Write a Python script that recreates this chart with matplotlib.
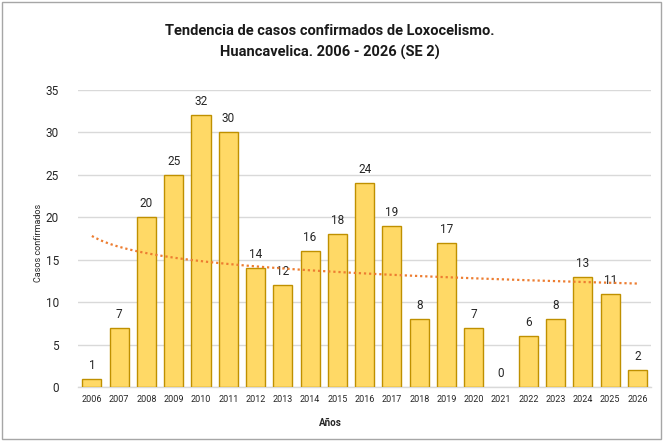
import numpy as np
import matplotlib
matplotlib.use("Agg")
import matplotlib.pyplot as plt
from matplotlib.patches import Rectangle
from matplotlib import font_manager

years = [str(y) for y in range(2006, 2027)]
cases = [1, 7, 20, 25, 32, 30, 14, 12, 16, 18, 24, 19, 8, 17, 7, 0, 6, 8, 13, 11, 2]
title = "Tendencia de casos confirmados de Loxocelismo.\nHuancavelica. 2006 - 2026 (SE 2)"
ylabel = "Casos confirmados"
xlabel = "Años"
yticks = [0, 5, 10, 15, 20, 25, 30, 35]

avail = {f.name for f in font_manager.fontManager.ttflist}
fam = [f for f in ["Liberation Sans Narrow", "Roboto", "DejaVu Sans"] if f in avail]
plt.rcParams['font.family'] = fam

fig = plt.figure(figsize=(6.63, 4.41), dpi=100)
ax = fig.add_axes([0.118, 0.1224, 0.864, 0.674])

x = np.arange(len(years))
edges = ["#BF9000" if v > 0 else "none" for v in cases]
ax.bar(x, cases, width=0.7, color="#FFD966", edgecolor=edges, linewidth=1.0, zorder=3)

for xi, v in zip(x, cases):
    ax.annotate(str(v), (xi, v), xytext=(0, 5), textcoords="offset points",
                ha="center", va="bottom", fontsize=8.5, color="#262626")

# logarithmic trend line (Excel style) fitted to the data
t = x + 1.0
b, a = np.polyfit(np.log(t), np.array(cases, dtype=float), 1)
tt = np.linspace(1, len(years), 200)
ax.plot(tt - 1, a + b * np.log(tt), color="#ED7D31", linestyle=(0, (1, 1.3)), linewidth=1.6, zorder=4)

ax.set_xlim(-0.5, len(years) - 0.5)
ax.set_ylim(0, 35)
ax.set_yticks(yticks)
ax.set_xticks(x)
ax.set_xticklabels(years, fontsize=6.5)
ax.tick_params(axis="y", labelsize=8.5, length=0, pad=14, colors="#262626")
ax.tick_params(axis="x", length=0, pad=6, colors="#262626")
ax.grid(axis="y", color="#D9D9D9", linewidth=1.0, zorder=0)
for s in ["top", "right", "left"]:
    ax.spines[s].set_visible(False)
ax.spines["bottom"].set_color("#D9D9D9")
ax.spines["bottom"].set_linewidth(1.0)

fig.text(0.498, 0.905, title, ha="center", va="center", fontsize=10.5, fontweight="bold",
         linespacing=1.55, color="#1a1a1a")
fig.text(0.058, 0.45, ylabel, rotation=90, ha="center", va="center", fontsize=6.5, color="#262626")
fig.text(0.498, 0.04, xlabel, ha="center", va="center", fontsize=7, fontweight="bold", color="#262626")

fig.patches.append(Rectangle((0.003, 0.005), 0.994, 0.99, transform=fig.transFigure,
                             fill=False, edgecolor="#A6A6A6", linewidth=1.0))

fig.savefig("out.png", dpi=100)
